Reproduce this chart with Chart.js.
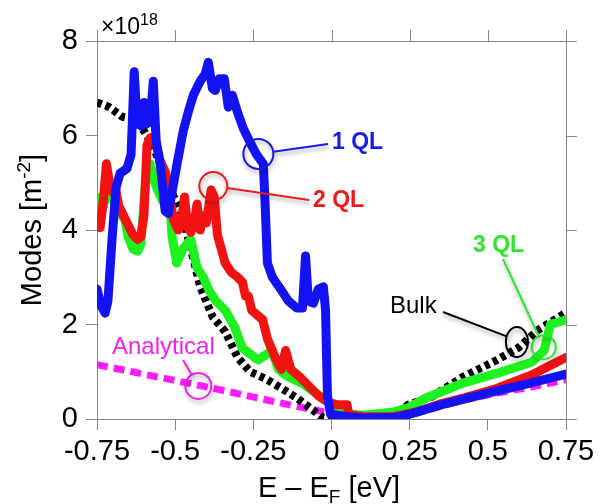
<!DOCTYPE html>
<html lang="en">
<head>
  <meta charset="UTF-8" />
  <title>Modes vs energy</title>
  <script src="https://cdn.jsdelivr.net/npm/chart.js"></script>
  <style>
    html, body { margin: 0; padding: 0; background: #fff; }
    #wrap { width: 611px; height: 504px; }
  </style>
</head>
<body>
  <div id="wrap"><canvas id="modesChart" width="611" height="504"></canvas></div>

  <script>
    // tick values and labels
    const xTicks = [-0.75, -0.5, -0.25, 0, 0.25, 0.5, 0.75];
    const xTickLabels = ['-0.75', '-0.5', '-0.25', '0', '0.25', '0.5', '0.75'];
    const yTicks = [0, 2, 4, 6, 8];

    // 1 QL (blue), modes in units of 1e18 m^-2
    const ql1E = [-0.75, -0.737, -0.724, -0.715, -0.702, -0.689, -0.676, -0.654, -0.641, -0.631, -0.622, -0.609, -0.599, -0.59, -0.58, -0.57, -0.561, -0.548, -0.532, -0.522, -0.51, -0.494, -0.474, -0.458, -0.442, -0.42, -0.404, -0.394, -0.381, -0.372, -0.359, -0.343, -0.33, -0.317, -0.301, -0.282, -0.26, -0.24, -0.218, -0.212, -0.205, -0.189, -0.163, -0.138, -0.112, -0.093, -0.083, -0.074, -0.058, -0.042, -0.026, -0.019, -0.013, -0.003, 0.05, 0.1, 0.2, 0.25, 0.35, 0.5, 0.6, 0.75];
    const ql1M = [2.75, 2.4, 2.24, 2.5, 3.8, 4.9, 5.2, 5.3, 5.6, 7.35, 6.3, 6.2, 6.7, 6.25, 6.3, 7.15, 5.9, 5.4, 4.4, 4.35, 4.8, 5.4, 6.1, 6.5, 6.85, 7.15, 7.3, 7.55, 7.0, 6.95, 7.2, 7.2, 6.6, 6.85, 6.5, 6.15, 5.85, 5.6, 5.4, 4.5, 3.3, 3.0, 2.75, 2.5, 2.35, 2.35, 3.45, 2.5, 2.45, 2.75, 2.8, 2.3, 0.5, 0.1, 0.05, 0.02, 0.03, 0.1, 0.3, 0.55, 0.7, 0.95];

    // 2 QL (red)
    const ql2E = [-0.75, -0.74, -0.73, -0.72, -0.71, -0.7, -0.69, -0.68, -0.665, -0.65, -0.635, -0.62, -0.61, -0.6, -0.59, -0.58, -0.565, -0.55, -0.54, -0.53, -0.52, -0.505, -0.49, -0.48, -0.47, -0.46, -0.45, -0.44, -0.43, -0.42, -0.41, -0.4, -0.385, -0.375, -0.365, -0.34, -0.32, -0.3, -0.285, -0.275, -0.266, -0.255, -0.22, -0.205, -0.18, -0.16, -0.147, -0.13, -0.1, -0.07, -0.04, -0.01, 0.02, 0.05, 0.055, 0.1, 0.2, 0.27, 0.35, 0.42, 0.53, 0.64, 0.75];
    const ql2M = [4.1, 4.05, 4.6, 5.4, 5.0, 4.8, 4.85, 4.5, 4.3, 4.1, 3.9, 3.8, 3.85, 4.3, 5.8, 5.95, 5.95, 5.5, 5.35, 5.2, 4.8, 4.2, 4.0, 4.15, 4.7, 4.05, 3.95, 4.1, 4.55, 4.0, 4.3, 4.15, 4.85, 4.7, 3.9, 3.3, 3.1, 3.0, 2.9, 2.6, 2.6, 2.3, 2.1, 1.7, 1.3, 1.05, 1.45, 1.05, 0.88, 0.68, 0.48, 0.35, 0.3, 0.3, 0.1, 0.05, 0.05, 0.15, 0.32, 0.44, 0.65, 0.93, 1.3];

    // 3 QL (green)
    const ql3E = [-0.75, -0.74, -0.73, -0.72, -0.705, -0.69, -0.675, -0.66, -0.65, -0.635, -0.62, -0.61, -0.595, -0.58, -0.565, -0.55, -0.535, -0.52, -0.51, -0.495, -0.475, -0.45, -0.43, -0.41, -0.39, -0.37, -0.34, -0.31, -0.285, -0.265, -0.235, -0.19, -0.17, -0.14, -0.095, -0.05, -0.01, 0.02, 0.05, 0.1, 0.2, 0.25, 0.3, 0.42, 0.53, 0.64, 0.68, 0.7, 0.75];
    const ql3M = [4.7, 4.4, 4.5, 4.75, 4.8, 4.5, 4.35, 4.2, 3.85, 3.6, 3.55, 3.7, 5.0, 5.4, 5.0, 4.75, 4.55, 4.9, 3.85, 3.3, 3.6, 3.8, 3.2, 3.0, 2.7, 2.5, 2.3, 1.95, 1.5, 1.4, 1.25, 1.45, 1.05, 0.9, 0.76, 0.55, 0.36, 0.25, 0.1, 0.08, 0.15, 0.25, 0.44, 0.76, 0.97, 1.2, 1.45, 2.0, 2.1];

    // Bulk (black dotted)
    const bulkE = [-0.75, -0.71, -0.67, -0.635, -0.6, -0.57, -0.54, -0.51, -0.475, -0.45, -0.42, -0.38, -0.34, -0.3, -0.26, -0.21, -0.16, -0.11, -0.06, -0.03, 0, 0.1, 0.2, 0.245, 0.32, 0.42, 0.53, 0.6, 0.66, 0.75];
    const bulkM = [6.7, 6.6, 6.4, 6.35, 6.1, 5.76, 5.27, 4.78, 4.27, 3.6, 2.8, 2.16, 1.85, 1.3, 1.0, 0.85, 0.65, 0.44, 0.19, 0.04, 0.0, 0.0, 0.05, 0.3, 0.47, 0.89, 1.25, 1.52, 1.88, 2.25];

    // Analytical (magenta dashed)
    const anaE = [-0.75, -0.4, -0.1, 0, 0.07, 0.18, 0.27, 0.42, 0.53, 0.64, 0.75];
    const anaM = [1.15, 0.68, 0.25, 0.12, 0.02, 0.02, 0.12, 0.4, 0.55, 0.68, 0.83];

    const pts = (xs, ys) => xs.map((x, i) => ({ x: x, y: ys[i] }));

    // callouts: circle anchored on data, label/line in pixels
    const callouts = [
      { text: '1 QL', color: '#1a1ae8', bold: true, cx: -0.234, cy: 5.61, rx: 15, ry: 15, tx: 332, ty: 143, lx: 328, ly: 144 },
      { text: '2 QL', color: '#ec1a1a', bold: true, cx: -0.378, cy: 4.93, rx: 14, ry: 14, tx: 313, ty: 201, lx: 309, ly: 200 },
      { text: '3 QL', color: '#2ee62e', bold: true, cx: 0.679, cy: 1.52, rx: 12, ry: 12, tx: 473, ty: 246, lx: 503, ly: 259 },
      { text: 'Bulk', color: '#000000', bold: false, cx: 0.593, cy: 1.63, rx: 11, ry: 15, tx: 390, ty: 306, lx: 443, ly: 312 },
      { text: 'Analytical', color: '#ee22ee', bold: false, cx: -0.426, cy: 0.70, rx: 13, ry: 13, tx: 112, ty: 347, lx: 183, ly: 360 }
    ];

    const FONT = '"Liberation Sans", Arial, Helvetica, sans-serif';
    const AXIS = '#858585';

    const framePlugin = {
      id: 'frame',
      afterDraw(chart) {
        const { ctx, chartArea: a, scales } = chart;
        ctx.save();
        // box top and right, with outward ticks
        ctx.strokeStyle = AXIS;
        ctx.lineWidth = 1;
        ctx.beginPath();
        ctx.moveTo(a.left - 11, a.top + 0.5); ctx.lineTo(a.right + 11, a.top + 0.5);
        ctx.moveTo(a.right + 0.5, a.top - 11); ctx.lineTo(a.right + 0.5, a.bottom + 11);
        xTicks.forEach(v => {
          const px = Math.round(scales.x.getPixelForValue(v)) + 0.5;
          ctx.moveTo(px, a.top); ctx.lineTo(px, a.top - 11);
        });
        yTicks.forEach(v => {
          const py = Math.round(scales.y.getPixelForValue(v)) + 0.5;
          ctx.moveTo(a.right, py); ctx.lineTo(a.right + 11, py);
        });
        ctx.stroke();

        // exponent
        ctx.fillStyle = '#000';
        ctx.textBaseline = 'alphabetic';
        ctx.textAlign = 'left';
        ctx.font = '23px ' + FONT;
        ctx.fillText('\u00d710', 101, 34);
        let w = ctx.measureText('\u00d710').width;
        ctx.font = '16px ' + FONT;
        ctx.fillText('18', 101 + w, 25);

        // x title
        ctx.font = '29px ' + FONT;
        const p1 = 'E \u2013 E', p3 = ' [eV]';
        const w1 = ctx.measureText(p1).width, w3 = ctx.measureText(p3).width;
        ctx.font = '19px ' + FONT;
        const w2 = ctx.measureText('F').width;
        let x0 = 329 - (w1 + w2 + w3) / 2;
        ctx.font = '29px ' + FONT;
        ctx.fillText(p1, x0, 497);
        ctx.font = '19px ' + FONT;
        ctx.fillText('F', x0 + w1, 503);
        ctx.font = '29px ' + FONT;
        ctx.fillText(p3, x0 + w1 + w2, 497);

        // y title
        ctx.translate(41, 230);
        ctx.rotate(-Math.PI / 2);
        ctx.font = '29px ' + FONT;
        const q1 = 'Modes [m', q3 = ']';
        const v1 = ctx.measureText(q1).width, v3 = ctx.measureText(q3).width;
        ctx.font = '19px ' + FONT;
        const v2 = ctx.measureText('-2').width;
        let y0 = -(v1 + v2 + v3) / 2;
        ctx.font = '29px ' + FONT;
        ctx.fillText(q1, y0, 0);
        ctx.font = '19px ' + FONT;
        ctx.fillText('-2', y0 + v1, -11);
        ctx.font = '29px ' + FONT;
        ctx.fillText(q3, y0 + v1 + v2, 0);
        ctx.restore();
      }
    };

    const calloutPlugin = {
      id: 'callouts',
      afterDatasetsDraw(chart) {
        const { ctx, scales } = chart;
        callouts.forEach(c => {
          const cx = scales.x.getPixelForValue(c.cx);
          const cy = scales.y.getPixelForValue(c.cy);
          ctx.save();
          ctx.shadowColor = 'rgba(0,0,0,0.35)';
          ctx.shadowBlur = 4;
          ctx.shadowOffsetX = 1;
          ctx.shadowOffsetY = 3;
          ctx.strokeStyle = c.color;
          ctx.lineWidth = 2;
          ctx.beginPath();
          ctx.ellipse(cx, cy, c.rx, c.ry, 0, 0, Math.PI * 2);
          ctx.stroke();
          // leader from circle edge to the label
          const ang = Math.atan2(c.ly - cy, c.lx - cx);
          ctx.beginPath();
          ctx.moveTo(cx + c.rx * Math.cos(ang), cy + c.ry * Math.sin(ang));
          ctx.lineTo(c.lx, c.ly);
          ctx.stroke();
          ctx.restore();

          ctx.save();
          ctx.fillStyle = c.color;
          ctx.font = (c.bold ? 'bold 23px ' : '24px ') + FONT;
          ctx.textAlign = 'left';
          ctx.textBaseline = 'middle';
          ctx.fillText(c.text, c.tx, c.ty);
          ctx.restore();
        });
      }
    };

    const line = (data, color, width, dash) => ({
      data: data,
      showLine: true,
      borderColor: color,
      backgroundColor: color,
      borderWidth: width,
      borderDash: dash || [],
      borderCapStyle: dash ? 'butt' : 'round',
      borderJoinStyle: 'round',
      pointRadius: 0,
      tension: 0
    });

    new Chart(document.getElementById('modesChart'), {
      type: 'scatter',
      data: {
        datasets: [
          line(pts(ql1E, ql1M), '#1212f2', 9),
          line(pts(ql2E, ql2M), '#f21212', 9),
          line(pts(ql3E, ql3M), '#1ef21e', 9),
          line(pts(bulkE, bulkM), '#000000', 8, [5, 4]),
          line(pts(anaE, anaM), '#ff1cff', 7, [11, 6])
        ]
      },
      options: {
        responsive: false,
        animation: false,
        events: [],
        layout: { padding: { left: 0, right: 45, top: 41, bottom: 0 } },
        plugins: { legend: { display: false }, tooltip: { enabled: false } },
        scales: {
          x: {
            type: 'linear',
            min: -0.75,
            max: 0.75,
            afterBuildTicks: s => { s.ticks = xTicks.map(v => ({ value: v })); },
            afterFit: s => { s.height = 85; },
            grid: { drawOnChartArea: false, tickLength: 11, color: AXIS },
            border: { color: AXIS },
            ticks: {
              color: '#000',
              padding: 5,
              maxRotation: 0,
              font: { family: FONT, size: 29 },
              callback: v => xTickLabels[xTicks.indexOf(v)]
            }
          },
          y: {
            min: 0,
            max: 8,
            afterBuildTicks: s => { s.ticks = yTicks.map(v => ({ value: v })); },
            afterFit: s => { s.width = 97; },
            grid: { drawOnChartArea: false, tickLength: 11, color: AXIS },
            border: { color: AXIS },
            ticks: {
              color: '#000',
              padding: 8,
              font: { family: FONT, size: 29 }
            }
          }
        }
      },
      plugins: [calloutPlugin, framePlugin]
    });
  </script>
</body>
</html>
